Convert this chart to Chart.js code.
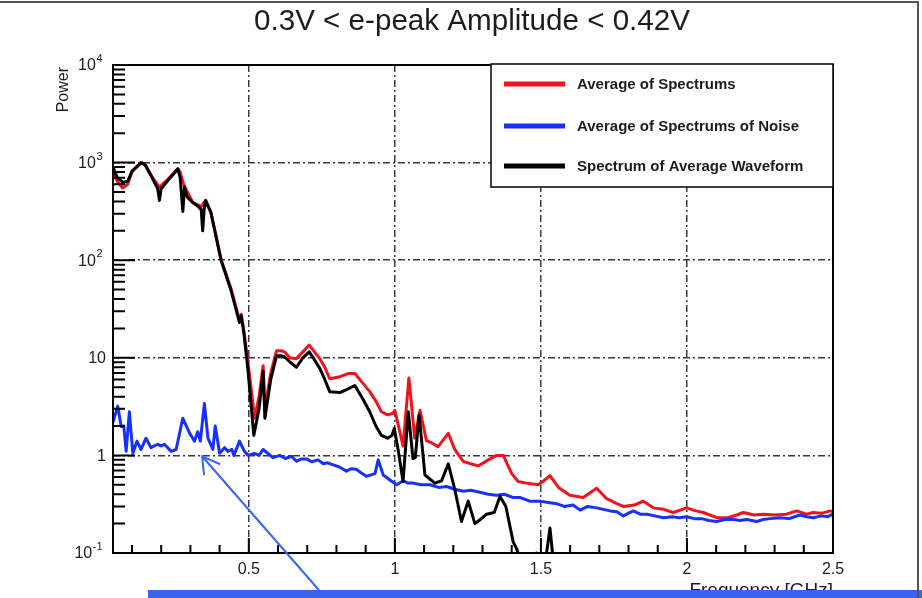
<!DOCTYPE html>
<html>
<head>
<meta charset="utf-8">
<script src="https://cdn.jsdelivr.net/npm/chart.js@4.4.1/dist/chart.umd.min.js"></script>
<style>
  html, body { margin: 0; padding: 0; background: #fff; overflow: hidden; }
  #wrap { position: relative; width: 922px; height: 598px; }
  canvas { display: block; }
</style>
</head>
<body>
<div id="wrap"><canvas id="c" width="922" height="598"></canvas></div>
<script>
// ---- chart text ----
const chartTitle = '0.3V < e-peak Amplitude < 0.42V';
const xAxisTitle = 'Frequency [GHz]';
const yAxisTitle = 'Power';
const seriesNames = ['Average of Spectrums', 'Average of Spectrums of Noise', 'Spectrum of Average Waveform'];
const seriesColors = ['#f2121c', '#1830ff', '#000000'];

// ---- axis ticks ----
const xTickValues = [0.5, 1, 1.5, 2, 2.5];
const xTickLabels = ['0.5', '1', '1.5', '2', '2.5'];
const yTickValues = [0.1, 1, 10, 100, 1000, 10000];
const yTickBase = ['10', '1', '10', '10', '10', '10'];
const yTickExp  = ['-1', '', '', '2', '3', '4'];

// ---- Average of Spectrums ----
const avgFreq = [0.035, 0.05, 0.068, 0.085, 0.10, 0.131, 0.145, 0.17, 0.194, 0.22, 0.257, 0.265, 0.275, 0.285, 0.308, 0.325, 0.337, 0.352, 0.37, 0.405, 0.44, 0.468, 0.474, 0.483, 0.497, 0.52, 0.535, 0.549, 0.555, 0.575, 0.595, 0.61, 0.623, 0.64, 0.663, 0.685, 0.707, 0.72, 0.743, 0.76, 0.777, 0.812, 0.84, 0.863, 0.89, 0.914, 0.935, 0.954, 0.975, 0.994, 1.0, 1.028, 1.048, 1.068, 1.086, 1.108, 1.125, 1.148, 1.183, 1.205, 1.234, 1.26, 1.285, 1.32, 1.348, 1.371, 1.40, 1.422, 1.45, 1.491, 1.51, 1.531, 1.56, 1.599, 1.645, 1.691, 1.725, 1.76, 1.782, 1.82, 1.85, 1.885, 1.92, 1.953, 1.999, 2.03, 2.056, 2.102, 2.14, 2.17, 2.193, 2.23, 2.261, 2.30, 2.34, 2.376, 2.41, 2.432, 2.46, 2.49, 2.5];
const avgPower = [800, 640, 550, 600, 800, 1000, 950, 700, 560, 660, 870, 800, 620, 530, 390, 370, 355, 410, 310, 102, 50, 24, 28, 19, 9, 2.4, 4, 8.3, 3, 7, 11.8, 11.8, 11.5, 10, 9.8, 11.5, 13.5, 12, 9.8, 8, 6.1, 6.4, 6.9, 6.9, 5.5, 4.5, 3.6, 2.8, 2.6, 2.7, 2.9, 1.25, 6.2, 1.5, 2.9, 1.42, 1.35, 1.23, 1.68, 1.15, 0.87, 0.82, 0.78, 0.9, 1.0, 1.0, 0.65, 0.54, 0.52, 0.5, 0.55, 0.62, 0.47, 0.39, 0.37, 0.46, 0.36, 0.32, 0.30, 0.31, 0.34, 0.29, 0.28, 0.26, 0.29, 0.27, 0.26, 0.23, 0.23, 0.245, 0.26, 0.245, 0.25, 0.245, 0.25, 0.27, 0.25, 0.26, 0.255, 0.27, 0.265];

// ---- Average of Spectrums of Noise ----
const noiseFreq = [0.035, 0.051, 0.063, 0.072, 0.08, 0.091, 0.103, 0.117, 0.131, 0.148, 0.165, 0.188, 0.2, 0.211, 0.234, 0.251, 0.274, 0.297, 0.314, 0.325, 0.334, 0.348, 0.36, 0.377, 0.385, 0.40, 0.417, 0.428, 0.442, 0.449, 0.468, 0.485, 0.498, 0.519, 0.535, 0.549, 0.565, 0.583, 0.606, 0.625, 0.646, 0.663, 0.68, 0.697, 0.715, 0.737, 0.755, 0.77, 0.789, 0.81, 0.834, 0.85, 0.868, 0.885, 0.903, 0.932, 0.943, 0.96, 0.983, 1.006, 1.029, 1.045, 1.063, 1.09, 1.12, 1.15, 1.177, 1.205, 1.234, 1.26, 1.291, 1.32, 1.348, 1.375, 1.405, 1.43, 1.462, 1.497, 1.525, 1.554, 1.58, 1.61, 1.634, 1.66, 1.691, 1.737, 1.76, 1.782, 1.816, 1.84, 1.863, 1.89, 1.919, 1.95, 1.975, 1.999, 2.025, 2.05, 2.075, 2.102, 2.13, 2.16, 2.18, 2.205, 2.239, 2.26, 2.284, 2.318, 2.35, 2.387, 2.41, 2.432, 2.46, 2.48, 2.5];
const noisePower = [2.2, 3.2, 1.98, 2.0, 1.1, 2.8, 1.05, 1.4, 1.15, 1.5, 1.2, 1.3, 1.25, 1.3, 1.1, 1.15, 2.4, 1.7, 1.4, 1.75, 1.4, 3.4, 1.5, 1.15, 2.0, 1.05, 1.2, 1.1, 1.15, 1.0, 1.4, 1.1, 1.0, 1.05, 1.0, 1.15, 1.05, 0.95, 1.0, 0.93, 0.98, 0.87, 0.92, 0.92, 0.86, 0.9, 0.82, 0.84, 0.8, 0.76, 0.69, 0.73, 0.72, 0.66, 0.61, 0.65, 0.9, 0.63, 0.56, 0.5, 0.55, 0.52, 0.52, 0.5, 0.5, 0.47, 0.48, 0.45, 0.43, 0.44, 0.42, 0.4, 0.39, 0.4, 0.37, 0.37, 0.34, 0.34, 0.33, 0.32, 0.3, 0.31, 0.275, 0.3, 0.29, 0.27, 0.265, 0.24, 0.27, 0.25, 0.25, 0.24, 0.23, 0.235, 0.23, 0.235, 0.225, 0.225, 0.215, 0.21, 0.22, 0.22, 0.215, 0.22, 0.21, 0.22, 0.225, 0.23, 0.225, 0.245, 0.235, 0.23, 0.24, 0.235, 0.25];

// ---- Spectrum of Average Waveform ----
const waveFreq = [0.035, 0.05, 0.068, 0.085, 0.10, 0.131, 0.145, 0.17, 0.188, 0.194, 0.2, 0.22, 0.257, 0.265, 0.274, 0.28, 0.29, 0.308, 0.325, 0.337, 0.342, 0.347, 0.352, 0.37, 0.405, 0.44, 0.468, 0.474, 0.483, 0.497, 0.517, 0.535, 0.549, 0.555, 0.575, 0.595, 0.61, 0.623, 0.64, 0.663, 0.685, 0.707, 0.72, 0.743, 0.76, 0.777, 0.812, 0.84, 0.863, 0.89, 0.914, 0.935, 0.954, 0.975, 0.99, 0.998, 1.012, 1.028, 1.046, 1.062, 1.07, 1.083, 1.103, 1.137, 1.16, 1.183, 1.205, 1.228, 1.251, 1.274, 1.3, 1.314, 1.34, 1.36, 1.38, 1.405, 1.417, 1.44, 1.46, 1.485, 1.5, 1.515, 1.531, 1.545, 1.57, 1.6];
const wavePower = [900, 700, 630, 640, 820, 1000, 950, 690, 540, 410, 540, 640, 860, 700, 316, 560, 440, 390, 360, 330, 200, 330, 410, 310, 100, 48, 23, 27, 18, 7.5, 1.6, 3, 7.3, 2.4, 6, 10.5, 10.5, 10.2, 9.1, 8, 10, 11.5, 10, 7.8, 6, 4.5, 4.4, 4.8, 5.2, 3.8, 2.8, 2.0, 1.6, 1.5, 1.6, 1.9, 1.1, 0.54, 2.8, 0.93, 0.95, 2.6, 0.63, 0.52, 0.55, 0.82, 0.45, 0.21, 0.34, 0.2, 0.23, 0.25, 0.26, 0.38, 0.3, 0.13, 0.11, 0.07, 0.08, 0.1, 0.06, 0.08, 0.18, 0.07, 0.05, 0.04];

function pairs(xs, ys) { return xs.map((x, i) => ({ x: x, y: ys[i] })); }

const FONT = '"Liberation Sans", Arial, Helvetica, sans-serif';
const TEXT = '#1c1c1c';

function nearly(a, b) { return Math.abs(a - b) < 1e-9 * Math.max(1, Math.abs(b)); }

// Frame, ticks, labels, legend and page annotations drawn around the plot
const decorations = {
  id: 'decorations',
  beforeDraw(chart) {
    const ctx = chart.ctx;
    ctx.save();
    ctx.fillStyle = '#ffffff';
    ctx.fillRect(0, 0, chart.width, chart.height);
    ctx.restore();
  },
  afterDraw(chart) {
    const ctx = chart.ctx;
    const a = chart.chartArea;
    const xs = chart.scales.x, ys = chart.scales.y;
    ctx.save();

    // plot frame
    ctx.strokeStyle = '#000';
    ctx.lineWidth = 2;
    ctx.strokeRect(a.left, a.top, a.right - a.left, a.bottom - a.top);

    // x ticks (inward)
    ctx.lineWidth = 2;
    ctx.beginPath();
    for (let k = 1; k <= 24; k++) {
      const v = k / 10;
      const px = xs.getPixelForValue(v);
      if (px <= a.left + 1 || px >= a.right - 1) continue;
      const major = (k % 5 === 0);
      const len = major ? 15 : 8;
      ctx.moveTo(px, a.bottom);
      ctx.lineTo(px, a.bottom - len);
    }
    ctx.stroke();

    // y ticks (inward, logarithmic)
    ctx.beginPath();
    for (let d = -1; d <= 3; d++) {
      for (let m = 1; m <= 9; m++) {
        const v = m * Math.pow(10, d);
        const py = ys.getPixelForValue(v);
        const len = m === 1 ? 22 : 12;
        ctx.moveTo(a.left, py);
        ctx.lineTo(a.left + len, py);
      }
    }
    ctx.stroke();

    // y tick labels with exponents
    ctx.fillStyle = TEXT;
    ctx.textBaseline = 'middle';
    yTickValues.forEach((v, i) => {
      const py = ys.getPixelForValue(v);
      const right = yTickExp[i] ? 102 : 106;
      ctx.font = '11px ' + FONT;
      const ew = yTickExp[i] ? ctx.measureText(yTickExp[i]).width : 0;
      ctx.font = '16px ' + FONT;
      const bw = ctx.measureText(yTickBase[i]).width;
      const x0 = right - ew - bw;
      ctx.textAlign = 'left';
      ctx.fillText(yTickBase[i], x0, py + 1);
      if (yTickExp[i]) {
        ctx.font = '11px ' + FONT;
        ctx.fillText(yTickExp[i], x0 + bw + 0.5, py - 6);
      }
    });

    // y axis title
    ctx.save();
    ctx.translate(64, a.top + 2);
    ctx.rotate(-Math.PI / 2);
    ctx.font = '16px ' + FONT;
    ctx.textAlign = 'right';
    ctx.textBaseline = 'middle';
    ctx.fillStyle = TEXT;
    ctx.fillText(yAxisTitle, 0, 0);
    ctx.restore();

    // x axis title
    ctx.font = '19px ' + FONT;
    ctx.textAlign = 'right';
    ctx.textBaseline = 'alphabetic';
    ctx.fillStyle = TEXT;
    ctx.fillText(xAxisTitle, a.right, 596);

    // title, condensed
    ctx.save();
    ctx.font = '30px ' + FONT;
    const tw = ctx.measureText(chartTitle).width;
    const sx = 436 / tw;
    ctx.translate(472, 30);
    ctx.scale(sx, 1);
    ctx.textAlign = 'center';
    ctx.textBaseline = 'alphabetic';
    ctx.fillStyle = TEXT;
    ctx.fillText(chartTitle, 0, 0);
    ctx.restore();

    // legend box
    const lx = 491, ly = 64, lw = a.right - 491, lh = 123;
    ctx.fillStyle = '#fff';
    ctx.fillRect(lx, ly, lw, lh);
    ctx.strokeStyle = '#111';
    ctx.lineWidth = 1.6;
    ctx.strokeRect(lx, ly, lw, lh);
    const rowsY = [84, 126, 166];
    seriesNames.forEach((name, i) => {
      ctx.strokeStyle = seriesColors[i];
      ctx.lineWidth = 5;
      ctx.beginPath();
      ctx.moveTo(504, rowsY[i]);
      ctx.lineTo(565, rowsY[i]);
      ctx.stroke();
      ctx.fillStyle = TEXT;
      ctx.font = 'bold 15px ' + FONT;
      ctx.textAlign = 'left';
      ctx.textBaseline = 'middle';
      ctx.fillText(name, 577, rowsY[i] + 1);
    });

    // pointer to the noise spectrum
    const tipX = xs.getPixelForValue(0.34);
    const tipY = ys.getPixelForValue(0.98);
    ctx.strokeStyle = '#3a66ee';
    ctx.lineWidth = 2;
    ctx.beginPath();
    ctx.moveTo(tipX + 117, tipY + 134);
    ctx.lineTo(tipX, tipY);
    ctx.moveTo(tipX + 2, tipY + 19);
    ctx.lineTo(tipX, tipY);
    ctx.lineTo(tipX + 18, tipY + 8);
    ctx.stroke();

    // bottom bar and page border
    ctx.fillStyle = '#3867ec';
    ctx.fillRect(148, 590, 774, 8);
    ctx.strokeStyle = '#555';
    ctx.lineWidth = 2;
    ctx.beginPath();
    ctx.moveTo(0, 2);
    ctx.lineTo(918, 2);
    ctx.lineTo(918, 598);
    ctx.stroke();

    ctx.restore();
  }
};

const gridDash = [7, 3, 2, 3];

new Chart(document.getElementById('c'), {
  type: 'line',
  data: {
    datasets: [
      { label: seriesNames[0], data: pairs(avgFreq, avgPower), borderColor: seriesColors[0], order: 3 },
      { label: seriesNames[1], data: pairs(noiseFreq, noisePower), borderColor: seriesColors[1], order: 2 },
      { label: seriesNames[2], data: pairs(waveFreq, wavePower), borderColor: seriesColors[2], order: 1 }
    ]
  },
  options: {
    responsive: false,
    animation: false,
    devicePixelRatio: 1,
    parsing: true,
    elements: {
      line: { borderWidth: 3, tension: 0, borderJoinStyle: 'round' },
      point: { radius: 0, hoverRadius: 0 }
    },
    layout: { padding: { top: 65, right: 89, left: 0, bottom: 0 } },
    plugins: { legend: { display: false }, tooltip: { enabled: false }, title: { display: false } },
    scales: {
      x: {
        type: 'linear',
        min: 0.035,
        max: 2.5,
        afterBuildTicks(scale) { scale.ticks = xTickValues.map(v => ({ value: v })); },
        afterFit(scale) { scale.height = 45; },
        ticks: {
          autoSkip: false,
          maxRotation: 0,
          padding: 7,
          color: TEXT,
          font: { family: FONT, size: 16 },
          callback(value) {
            const i = xTickValues.findIndex(t => nearly(t, value));
            return i >= 0 ? xTickLabels[i] : '';
          }
        },
        grid: {
          drawTicks: false,
          lineWidth: 1.5,
          color(ctx) { return ctx.tick && ctx.tick.value < 2.49 ? '#3a3a3a' : 'rgba(0,0,0,0)'; }
        },
        border: { display: false, dash: gridDash }
      },
      y: {
        type: 'logarithmic',
        min: 0.1,
        max: 10000,
        afterBuildTicks(scale) { scale.ticks = yTickValues.map(v => ({ value: v })); },
        afterFit(scale) { scale.width = 113; },
        ticks: { display: false },
        grid: {
          drawTicks: false,
          lineWidth: 1.5,
          color(ctx) {
            const v = ctx.tick ? ctx.tick.value : 0;
            return (v > 0.11 && v < 9000) ? '#3a3a3a' : 'rgba(0,0,0,0)';
          }
        },
        border: { display: false, dash: gridDash }
      }
    }
  },
  plugins: [decorations]
});
</script>
</body>
</html>
